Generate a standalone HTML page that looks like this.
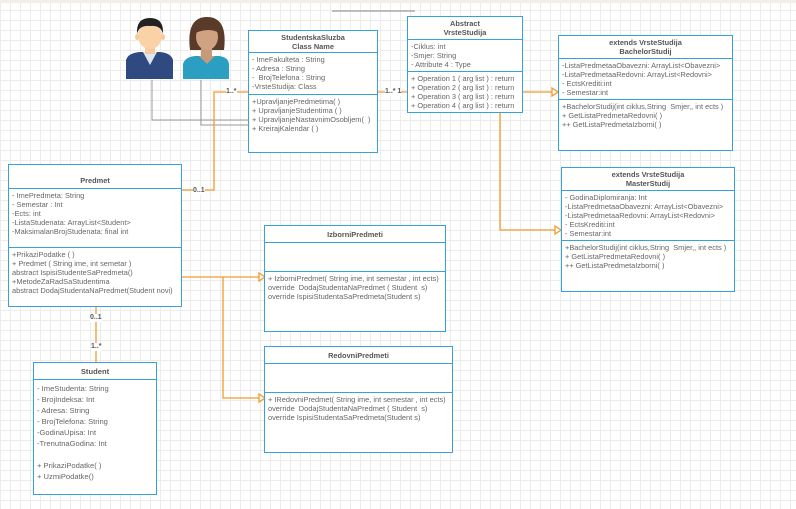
<!DOCTYPE html>
<html><head><meta charset="utf-8"><style>
body{margin:0;width:796px;height:509px;overflow:hidden;position:relative;font-family:"Liberation Sans",sans-serif;
background-color:#fff;background-image:linear-gradient(#ececec 1px,transparent 1px),linear-gradient(90deg,#ececec 1px,transparent 1px);background-size:10px 10px;}
.b{position:absolute;border:1.5px solid #3aa0dd;background:#fff;box-sizing:border-box;color:#666;font-size:7.4px;line-height:9px}
.h{border-bottom:1.3px solid #3aa0dd;text-align:center;font-weight:bold;color:#555;box-sizing:border-box;display:flex;align-items:center;justify-content:center;flex-direction:column}
.s{border-bottom:1.3px solid #3aa0dd;padding:2px 3px;box-sizing:border-box;white-space:nowrap}
.o{padding:2px 3px;white-space:nowrap}
svg{position:absolute;left:0;top:0}
.l{position:absolute;font-size:7px;font-weight:bold;color:#555;background:#fff;line-height:8px}
</style></head><body>
<div style="position:absolute;left:0;top:0;width:796px;height:3px;background:#f3eeea"></div>
<svg width="796" height="509">
<line x1="332" y1="11" x2="415" y2="11" stroke="#aaa" stroke-width="1.5"/>
<g fill="none" stroke="#999" stroke-width="1">
<polyline points="152,80 152,120 248,120"/><polyline points="201,80 201,125 248,125"/></g>
<g fill="none" stroke="#f39a2e" stroke-width="1.3">
<polyline points="181,190 214,190 214,92 248,92"/>
<line x1="377" y1="92" x2="407" y2="92"/>
<line x1="522" y1="92" x2="552" y2="92"/>
<polyline points="500,112 500,230 555,230"/>
<polyline points="181,277 259,277"/>
<polyline points="223,277 223,398 259,398"/>
<line x1="96" y1="306" x2="96" y2="362"/>
<polygon points="552,88 558,92 552,96" fill="#fff"/>
<polygon points="555,226 561,230 555,234" fill="#fff"/>
<polygon points="259,273 265,277 259,281" fill="#fff"/>
<polygon points="259,394 265,398 259,402" fill="#fff"/>
</g>
<!-- man -->
<path d="M126,79 L126,60 Q128,53 140,52 L160,52 Q171,53 173,60 L173,79 Z" fill="#2f4a80"/>
<path d="M143,52 L157,52 L150,65 Z" fill="#dce6f0"/>
<rect x="145" y="45" width="10" height="9" fill="#f6c9a0"/>
<ellipse cx="150" cy="36" rx="12" ry="13" fill="#fbd1a8"/>
<ellipse cx="137" cy="37" rx="2" ry="3" fill="#f6c9a0"/><ellipse cx="163" cy="37" rx="2" ry="3" fill="#f6c9a0"/>
<path d="M137,34 Q136,18 150,18 Q164,18 163,34 Q161,25 150,26 Q139,25 137,34 Z" fill="#222"/>
<!-- woman -->
<path d="M190,50 Q186,17 207,17 Q228,17 224,50 Z" fill="#5a3a28"/>
<path d="M183,79 L183,64 Q185,57 195,56 L219,56 Q228,57 229,64 L229,79 Z" fill="#2b9fc2"/>
<rect x="201" y="47" width="11" height="10" fill="#c49a78"/>
<path d="M199,56 L215,56 L207,64 Z" fill="#c49a78"/>
<ellipse cx="207" cy="37" rx="11" ry="13" fill="#cfa282"/>
<path d="M195,33 Q198,20 212,22 Q220,25 219,33 Q210,27 195,33 Z" fill="#5a3a28"/>
</svg>
<div class="l" style="left:226px;top:88px">1..*</div>
<div class="l" style="left:385px;top:88px">1..* 1</div>
<div class="l" style="left:193px;top:187px">0..1</div>
<div class="l" style="left:90px;top:314px">0..1</div>
<div class="l" style="left:91px;top:343px">1..*</div>

<div class="b" style="left:248px;top:30px;width:130px;height:123px">
<div class="h" style="height:22px">StudentskaSluzba<br>Class Name</div>
<div class="s" style="height:42px">- ImeFakulteta : String<br>- Adresa : String<br>-&nbsp; BrojTelefona : String<br>-VrsteStudija: Class</div>
<div class="o">+UpravljanjePredmetima( )<br>+ UpravljanjeStudentima ( )<br>+ UpravljanjeNastavnimOsobljem(&nbsp; )<br>+ KreirajKalendar ( )</div></div>

<div class="b" style="left:407px;top:16px;width:116px;height:97px">
<div class="h" style="height:23px">Abstract<br>VrsteStudija</div>
<div class="s" style="height:32px">-Ciklus: int<br>-Smjer: String<br>- Attribute 4 : Type</div>
<div class="o">+ Operation 1 ( arg list ) : return<br>+ Operation 2 ( arg list ) : return<br>+ Operation 3 ( arg list ) : return<br>+ Operation 4 ( arg list ) : return</div></div>

<div class="b" style="left:558px;top:35px;width:175px;height:116px">
<div class="h" style="height:23px">extends VrsteStudija<br>BachelorStudij</div>
<div class="s" style="height:41px">-ListaPredmetaaObavezni: ArrayList&lt;Obavezni&gt;<br>-ListaPredmetaaRedovni: ArrayList&lt;Redovni&gt;<br>- EctsKrediti:int<br>- Semestar:int</div>
<div class="o">+BachelorStudij(int ciklus,String&nbsp; Smjer,, int ects )<br>+ GetListaPredmetaRedovni( )<br>++ GetListaPredmetaIzborni( )</div></div>

<div class="b" style="left:561px;top:167px;width:174px;height:125px">
<div class="h" style="height:23px">extends VrsteStudija<br>MasterStudij</div>
<div class="s" style="height:50px">- GodinaDiplomiranja: Int<br>-ListaPredmetaaObavezni: ArrayList&lt;Obavezni&gt;<br>-ListaPredmetaaRedovni: ArrayList&lt;Redovni&gt;<br>- EctsKrediti:int<br>- Semestar:int</div>
<div class="o">+BachelorStudij(int ciklus,String&nbsp; Smjer,, int ects )<br>+ GetListaPredmetaRedovni( )<br>++ GetListaPredmetaIzborni( )</div></div>

<div class="b" style="left:8px;top:164px;width:174px;height:143px">
<div class="h" style="height:24px;padding-top:8px">Predmet</div>
<div class="s" style="height:59px">- ImePredmeta: String<br>- Semestar : Int<br>-Ects: int<br>-ListaStudenata: ArrayList&lt;Student&gt;<br>-MaksimalanBrojStudenata: final int</div>
<div class="o">+PrikaziPodatke ( )<br>+ Predmet ( String ime, int semetar )<br>abstract IspisiStudenteSaPredmeta()<br>+MetodeZaRadSaStudentima<br>abstract DodajStudentaNaPredmet(Student novi)</div></div>

<div class="b" style="left:264px;top:225px;width:182px;height:107px">
<div class="h" style="height:17px">IzborniPredmeti</div>
<div class="s" style="height:29px"></div>
<div class="o">+ IzborniPredmet( String ime, int semestar , int ects)<br>override&nbsp; DodajStudentaNaPredmet ( Student&nbsp; s)<br>override IspisiStudentaSaPredmeta(Student s)</div></div>

<div class="b" style="left:264px;top:346px;width:189px;height:107px">
<div class="h" style="height:17px">RedovniPredmeti</div>
<div class="s" style="height:29px"></div>
<div class="o">+ IRedovniPredmet( String ime, int semestar , int ects)<br>override&nbsp; DodajStudentaNaPredmet ( Student&nbsp; s)<br>override IspisiStudentaSaPredmeta(Student s)</div></div>

<div class="b" style="left:33px;top:362px;width:124px;height:133px;font-size:7.6px;line-height:11px">
<div class="h" style="height:17px">Student</div>
<div class="o" style="padding-top:3px">- ImeStudenta: String<br>- BrojIndeksa: Int<br>- Adresa: String<br>- BrojTelefona: String<br>-GodinaUpisa: Int<br>-TrenutnaGodina: Int<br><br>+ PrikaziPodatke( )<br>+ UzmiPodatke()</div></div>
</body></html>
